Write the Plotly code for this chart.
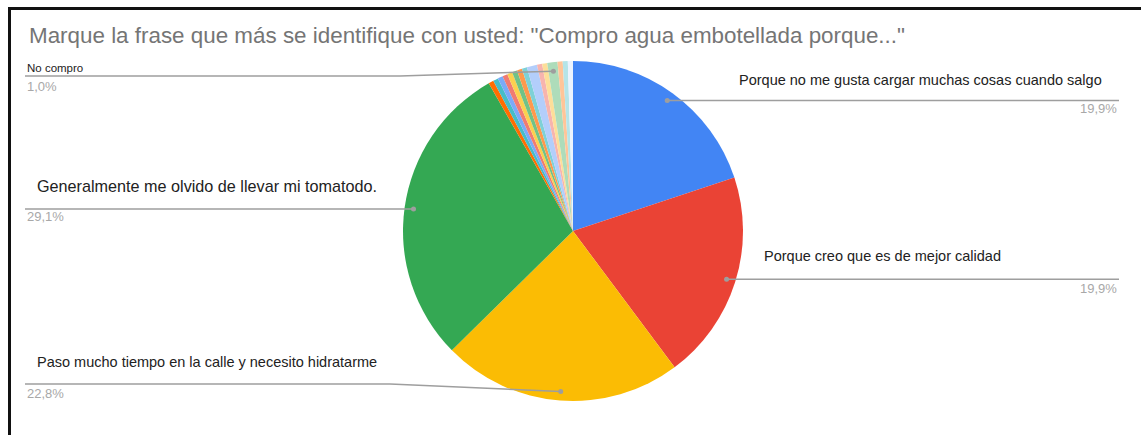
import math
import plotly.graph_objects as go

# Survey answers (number of respondents per option)
labels = [
    "Porque no me gusta cargar muchas cosas cuando salgo",
    "Porque creo que es de mejor calidad",
    "Paso mucho tiempo en la calle y necesito hidratarme",
    "Generalmente me olvido de llevar mi tomatodo.",
    "Otra 1", "Otra 2", "Otra 3", "Otra 4", "Otra 5", "Otra 6", "Otra 7",
    "Otra 8", "Otra 9", "Otra 10", "Otra 11", "No compro", "Otra 12",
    "Otra 13", "Otra 14",
]
counts = [41, 41, 47, 60, 1, 1, 1, 1, 1, 1, 1, 1, 2, 1, 1, 2, 1, 1, 1]
colors = [
    "#4285F4", "#EA4335", "#FBBC04", "#34A853", "#FF6D01", "#46BDC6",
    "#7BAAF7", "#F07B72", "#FCD04F", "#71C287", "#FF994D", "#7ED1D7",
    "#B3CEFB", "#F7B4AE", "#FDDE99", "#AEDCBA", "#FFC599", "#B5E4E8",
    "#ECF3FE",
]

W, H = 1141, 435
CX, CY, R = 573, 231, 170      # pie centre and radius in pixels
R_DOT = 161                    # radius where leader lines start
FONT = "Arial, Liberation Sans, sans-serif"

total = sum(counts)


def px(x):
    return x / W


def py(y):
    return 1 - y / H


def pct(v):
    return f"{100 * v / total:.1f}".replace(".", ",") + "%"


fig = go.Figure(go.Pie(
    labels=labels,
    values=counts,
    sort=False,
    direction="clockwise",
    rotation=0,
    marker=dict(colors=colors, line=dict(width=0)),
    textinfo="none",
    hoverinfo="label+percent",
    showlegend=False,
    domain=dict(x=[px(CX - R), px(CX + R)], y=[py(CY + R), py(CY - R)]),
))

shapes = []
annotations = []

# leader line anchor for each slice (slice mid-angle)
anchors = {}
cum = 0
for i, v in enumerate(counts):
    mid = (cum + v / 2) / total
    th = 2 * math.pi * mid
    anchors[i] = (CX + R_DOT * math.sin(th), CY - R_DOT * math.cos(th))
    cum += v

LINE = dict(color="#9E9E9E", width=1.5)
PCT_COL = "#A8A8A8"
TXT_COL = "#222222"

# label layout per slice: text position, line route, percentage position
layout_spec = {
    0: dict(text_xy=(737, 80), tanchor="left", route=[(1119, None)],
            pct_xy=(1119, 109), panchor="right", size=14.5),
    1: dict(text_xy=(762, 256), tanchor="left", route=[(1119, None)],
            pct_xy=(1119, 288), panchor="right", size=14.5),
    2: dict(text_xy=(35, 362), tanchor="left", route=[(390, 384), (25, 384)],
            pct_xy=(25, 393), panchor="left", size=14.5),
    3: dict(text_xy=(35, 186), tanchor="left", route=[(25, None)],
            pct_xy=(25, 216), panchor="left", size=16.2),
    15: dict(text_xy=(25, 68), tanchor="left", route=[(400, 76), (25, 76)],
             pct_xy=(25, 86), panchor="left", size=11.5),
}

for i, spec in layout_spec.items():
    ax, ay = anchors[i]
    pts = [(ax, ay)]
    for (x, y) in spec["route"]:
        pts.append((x, ay if y is None else y))
    path = "M " + " L ".join(f"{px(x):.5f},{py(y):.5f}" for x, y in pts)
    shapes.append(dict(type="path", xref="paper", yref="paper", path=path,
                       line=LINE, layer="above"))
    shapes.append(dict(type="circle", xref="paper", yref="paper",
                       x0=px(ax - 2.5), x1=px(ax + 2.5),
                       y0=py(ay + 2.5), y1=py(ay - 2.5),
                       fillcolor="#9E9E9E", line=dict(width=0), layer="above"))
    tx, ty = spec["text_xy"]
    annotations.append(dict(
        text=labels[i], x=px(tx), y=py(ty), xref="paper", yref="paper",
        xanchor=spec["tanchor"], yanchor="middle", showarrow=False,
        font=dict(family=FONT, size=spec["size"], color=TXT_COL)))
    qx, qy = spec["pct_xy"]
    annotations.append(dict(
        text=pct(counts[i]), x=px(qx), y=py(qy), xref="paper", yref="paper",
        xanchor=spec["panchor"], yanchor="middle", showarrow=False,
        font=dict(family=FONT, size=13, color=PCT_COL)))

# title
annotations.append(dict(
    text='Marque la frase que más se identifique con usted: "Compro agua embotellada porque..."',
    x=px(27), y=py(36), xref="paper", yref="paper", xanchor="left",
    yanchor="middle", showarrow=False,
    font=dict(family=FONT, size=22.4, color="#757575")))

# frame around the chart (top and left edges)
shapes.append(dict(type="line", xref="paper", yref="paper",
                   x0=px(8), x1=1.01, y0=py(8.5), y1=py(8.5),
                   line=dict(color="#111111", width=3)))
shapes.append(dict(type="line", xref="paper", yref="paper",
                   x0=px(9.5), x1=px(9.5), y0=py(7), y1=-0.01,
                   line=dict(color="#111111", width=3)))

fig.update_layout(
    width=W, height=H,
    margin=dict(l=0, r=0, t=0, b=0),
    paper_bgcolor="white", plot_bgcolor="white",
    shapes=shapes, annotations=annotations,
)

fig.write_html("out.html")
